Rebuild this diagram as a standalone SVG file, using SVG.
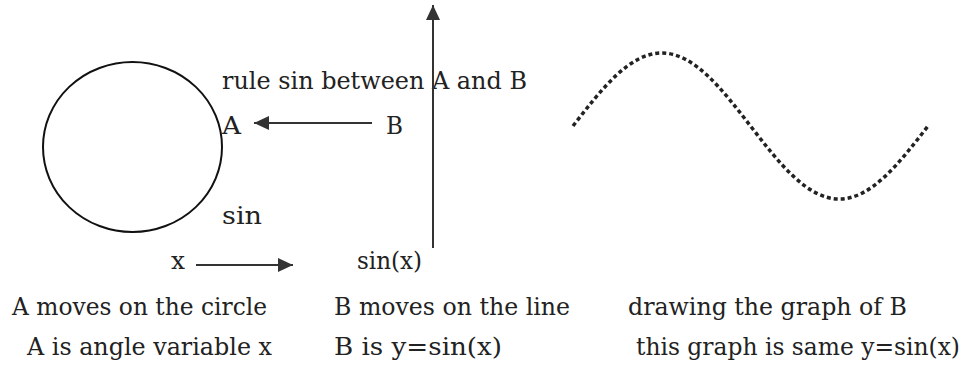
<svg xmlns="http://www.w3.org/2000/svg" width="968" height="367" viewBox="0 0 968 367">
<style>
text{font-family:"DejaVu Serif","Liberation Serif",serif;font-size:24.5px;fill:#222}
.conn{stroke:#333;stroke-width:2;fill:none}
</style>
<defs>
<marker id="ah" markerUnits="userSpaceOnUse" markerWidth="16" markerHeight="14" refX="15" refY="7" orient="auto">
<path d="M0,0 L15,7 L0,14 Z" fill="#333"/>
</marker>
</defs>
<rect width="968" height="367" fill="#fff"/>
<g id="circle">
<ellipse cx="132.5" cy="147" rx="89.5" ry="85" fill="none" stroke="#111" stroke-width="2"/>
</g>
<g id="labels">
<text x="222" y="89" textLength="305" lengthAdjust="spacingAndGlyphs">rule sin between A and B</text>
<text x="222" y="134" textLength="19" lengthAdjust="spacingAndGlyphs">A</text>
<text x="386" y="134" textLength="17" lengthAdjust="spacingAndGlyphs">B</text>
<text x="222" y="224" textLength="40" lengthAdjust="spacingAndGlyphs">sin</text>
<text x="171" y="269" textLength="14" lengthAdjust="spacingAndGlyphs">x</text>
<text x="357" y="269" textLength="65" lengthAdjust="spacingAndGlyphs">sin(x)</text>
</g>
<g id="axis">
<line class="conn" x1="433" y1="248" x2="433" y2="5" marker-end="url(#ah)"/>
</g>
<g id="connectors">
<line class="conn" x1="372" y1="123" x2="254" y2="123" marker-end="url(#ah)"/>
<line class="conn" x1="196" y1="265" x2="293" y2="265" marker-end="url(#ah)"/>
</g>
<g id="graph">
<path d="M573,126 C601.9,88.6 629.6,53 661.75,53 C693.9,53 721.6,88.6 750.5,126 C779.4,163.4 807.1,199 839.25,199 C871.4,199 899.1,163.4 928,126" fill="none" stroke="#222" stroke-width="3.5" stroke-dasharray="4 3"/>
</g>
<g id="captions">
<text x="12" y="315" textLength="255" lengthAdjust="spacingAndGlyphs">A moves on the circle</text>
<text x="27" y="355" textLength="245" lengthAdjust="spacingAndGlyphs">A is angle variable x</text>
<text x="334" y="315" textLength="236" lengthAdjust="spacingAndGlyphs">B moves on the line</text>
<text x="334" y="355" textLength="168" lengthAdjust="spacingAndGlyphs">B is y=sin(x)</text>
<text x="628" y="315" textLength="279" lengthAdjust="spacingAndGlyphs">drawing the graph of B</text>
<text x="636" y="355" style="font-size:23.4px" textLength="324" lengthAdjust="spacingAndGlyphs">this graph is same y=sin(x)</text>
</g>
</svg>
